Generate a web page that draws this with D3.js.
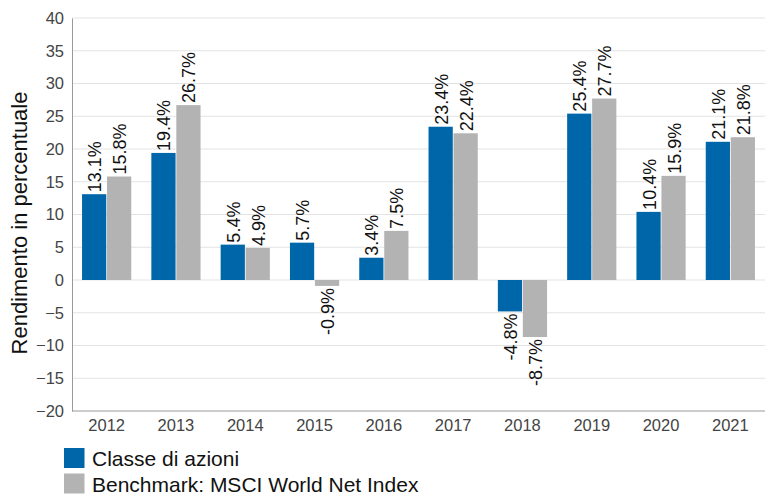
<!DOCTYPE html>
<html><head><meta charset="utf-8">
<script src="https://cdn.jsdelivr.net/npm/d3@7"></script>
<style>body{margin:0;background:#fff}svg{display:block;font-family:"Liberation Sans",Arial,sans-serif}</style>
</head><body><svg id="c" width="768" height="496"></svg>
<script>
const years = ["2012","2013","2014","2015","2016","2017","2018","2019","2020","2021"];
const classe = [13.1,19.4,5.4,5.7,3.4,23.4,-4.8,25.4,10.4,21.1];
const benchmark = [15.8,26.7,4.9,-0.9,7.5,22.4,-8.7,27.7,15.9,21.8];
const yTicks = [-20,-15,-10,-5,0,5,10,15,20,25,30,35,40];
const seriesNames = ["Classe di azioni","Benchmark: MSCI World Net Index"];
const colors = ["#0066aa","#b3b3b3"];

const svg = d3.select("#c");
const L=72, R=765, T=18, B=411;
const x = d3.scaleBand().domain(years).range([L,R]).paddingInner(0.29).paddingOuter(0.145);
const xs = d3.scaleBand().domain([0,1]).range([0,x.bandwidth()]).paddingInner(0.03);
const y = d3.scaleLinear().domain([-20,40]).range([B,T]);

// gridlines
svg.append("g").selectAll("line").data(yTicks.filter(d=>d!==-20)).join("line")
  .attr("x1",L).attr("x2",R).attr("y1",d=>y(d)).attr("y2",d=>y(d))
  .attr("stroke","#e3e3e3").attr("stroke-width",1);

// bars
const data = years.map((yr,i)=>({yr,vals:[classe[i],benchmark[i]]}));
const grp = svg.append("g").selectAll("g").data(data).join("g")
  .attr("transform",d=>`translate(${x(d.yr)},0)`);
grp.selectAll("rect").data(d=>d.vals.map((v,k)=>({v,k}))).join("rect")
  .attr("x",d=>xs(d.k)).attr("width",xs.bandwidth())
  .attr("y",d=>y(Math.max(0,d.v))).attr("height",d=>Math.abs(y(d.v)-y(0)))
  .attr("fill",d=>colors[d.k]);
grp.selectAll("text").data(d=>d.vals.map((v,k)=>({v,k}))).join("text")
  .attr("transform",d=>{
    const cx = xs(d.k)+xs.bandwidth()/2;
    const yy = d.v>=0 ? y(d.v)-2 : y(d.v)+2;
    return `translate(${cx+7},${yy}) rotate(-90)`;})
  .attr("text-anchor",d=>d.v>=0?"start":"end")
  .attr("font-size",18).attr("fill","#111")
  .text(d=>d.v.toFixed(1)+"%");

// axes
const yAxis = svg.append("g").attr("transform",`translate(${L},0)`)
  .call(d3.axisLeft(y).tickValues(yTicks).tickSize(0).tickPadding(8));
yAxis.select(".domain").attr("stroke","#999");
yAxis.selectAll("text").attr("font-size",16.5).attr("fill","#444").attr("font-family","Liberation Sans, Arial, sans-serif");
const xAxis = svg.append("g").attr("transform",`translate(0,${B})`)
  .call(d3.axisBottom(x).tickSize(0).tickPadding(8));
xAxis.select(".domain").attr("stroke","#999").attr("d",`M${L},0H${R}`);
xAxis.selectAll("text").attr("font-size",16.5).attr("fill","#444").attr("font-family","Liberation Sans, Arial, sans-serif");

// y title
svg.append("text").attr("transform",`translate(27,223) rotate(-90)`)
  .attr("text-anchor","middle").attr("font-size",22).attr("fill","#111")
  .text("Rendimento in percentuale");

// legend
const lg = svg.append("g").selectAll("g").data(seriesNames).join("g")
  .attr("transform",(d,i)=>`translate(64,${448+i*25.5})`);
lg.append("rect").attr("width",20.5).attr("height",20).attr("fill",(d,i)=>colors[i]);
lg.append("text").attr("x",28).attr("y",18).attr("font-size",21).attr("fill","#111").text(d=>d);
</script></body></html>
